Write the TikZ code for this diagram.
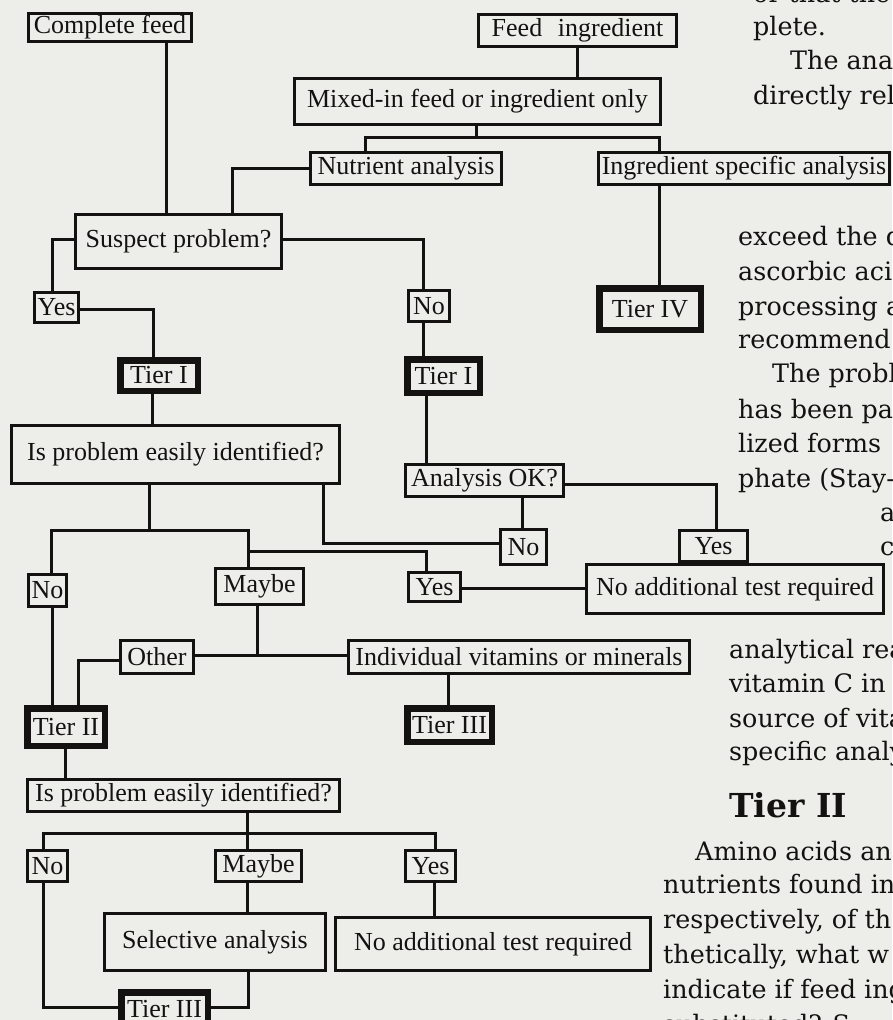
\documentclass[tikz,border=0pt]{standalone}
\usepackage{fontspec}
\setmainfont{Liberation Serif}
\newfontfamily\bodyfont{DejaVu Serif}
\definecolor{ink}{RGB}{20,18,16}
\definecolor{paper}{RGB}{237,237,234}
\newcommand\flowface{\fontsize{26}{30}\selectfont}
\newcommand\proseface{\bodyfont\fontsize{25.4}{30}\selectfont}
\newcommand\headface{\bodyfont\bfseries\fontsize{33}{36}\selectfont}
\begin{document}
\begin{tikzpicture}[x=1pt,y=-1pt,
  box/.style={draw=ink,line width=3pt,inner sep=0pt,text=ink,font=\flowface},
  tier/.style={box,line width=6.5pt},
  link/.style={draw=ink,line width=3pt},
  prose/.style={anchor=base west,inner sep=0pt,text=ink,font=\proseface}]
\useasboundingbox (0,0) rectangle (892,1020);
\clip (0,0) rectangle (892,1020);
\fill[paper] (0,0) rectangle (892,1020);

% ---- boxes ----
\node[box,minimum width=163pt,minimum height=28pt] (cf) at (110,27.5) {Complete feed};
\node[box,minimum width=198pt,minimum height=32pt] (fi) at (577.5,30.5) {Feed\hspace{0.35em} ingredient};
\node[box,minimum width=366pt,minimum height=46pt] (mx) at (477.5,101.5) {Mixed-in feed or ingredient only};
\node[box,minimum width=191pt,minimum height=32pt] (na) at (406,168.5) {Nutrient analysis};
\node[box,minimum width=291pt,minimum height=32pt] (isa) at (744,168.5) {Ingredient specific analysis};
\node[tier,minimum width=101.5pt,minimum height=41.5pt] (t4) at (650,309) {Tier IV};
\node[box,minimum width=206pt,minimum height=54pt] (sp) at (178.5,241.5) {Suspect problem?};
\node[box,minimum width=44pt,minimum height=30pt] (y1) at (56.5,307.5) {Yes};
\node[box,minimum width=41pt,minimum height=31pt] (n1) at (429,306) {No};
\node[tier,minimum width=77.5pt,minimum height=30.5pt] (t1a) at (159,375.5) {Tier I};
\node[tier,minimum width=72.5pt,minimum height=33.5pt] (t1b) at (443.5,376) {Tier I};
\node[box,minimum width=328pt,minimum height=58pt] (ipe1) at (175.5,454.5) {Is problem easily identified?};
\node[box,minimum width=158pt,minimum height=32pt] (aok) at (484.5,480.5) {Analysis OK?};
\node[box,minimum width=46pt,minimum height=35pt] (no2) at (523.5,547) {No};
\node[box,minimum width=68pt,minimum height=31pt] (yes2) at (713.5,546) {Yes};
\node[box,minimum width=297pt,minimum height=49pt] (natr1) at (735,589) {No additional test required};
\node[box,minimum width=38pt,minimum height=32pt] (no3) at (47.5,590.5) {No};
\node[box,minimum width=88pt,minimum height=36pt] (maybe1) at (259.5,586.5) {Maybe};
\node[box,minimum width=52pt,minimum height=29pt] (yes3) at (434.5,587) {Yes};
\node[box,minimum width=73pt,minimum height=33pt] (other) at (157,657) {Other};
\node[box,minimum width=341pt,minimum height=33pt] (ivm) at (519,657) {Individual vitamins or minerals};
\node[tier,minimum width=84.5pt,minimum height=33.5pt] (t3a) at (449.5,725) {Tier III};
\node[tier,minimum width=77.5pt,minimum height=37.5pt] (t2) at (66,727) {Tier II};
\node[box,minimum width=312pt,minimum height=32pt] (ipe2) at (183.5,795.5) {Is problem easily identified?};
\node[box,minimum width=40pt,minimum height=31pt] (no4) at (47.5,866) {No};
\node[box,minimum width=86pt,minimum height=31pt] (maybe2) at (258.5,866) {Maybe};
\node[box,minimum width=50pt,minimum height=31pt] (yes4) at (430.5,866) {Yes};
\node[box,minimum width=221pt,minimum height=57pt] (sel) at (215,942) {Selective analysis};
\node[box,minimum width=315pt,minimum height=53pt] (natr2) at (493,944) {No additional test required};
\node[tier,minimum width=86.5pt,minimum height=33.5pt] (t3b) at (164.5,1009) {Tier III};

% ---- junction coordinates ----
\coordinate (mxj) at (476,137);
\coordinate (b1l) at (365,137);
\coordinate (b1r) at (659,137);
\coordinate (b2) at (149,530);
\coordinate (b3) at (248,551);
\coordinate (b4) at (247,833);

% ---- connectors ----
\draw[link] ([xshift=56pt]cf.south) -- ([xshift=56pt]cf.south |- sp.north);
\draw[link] (fi.south) -- (fi.south |- mx.north);
\draw[link] (mx.south -| mxj) -- (mxj);
\draw[link] (na.north -| b1l) -- (b1l) -- (b1r) -- (isa.north -| b1r);
\draw[link] (isa.south -| b1r) -- (t4.north -| b1r);
\draw[link] (na.west) -| ([xshift=53.5pt]sp.north);
\draw[link] ([yshift=2pt]sp.west) -| ([xshift=-4.5pt]y1.north);
\draw[link] ([yshift=-1.5pt]y1.east) -| ([xshift=-6pt]t1a.north);
\draw[link] ([yshift=2pt]sp.east) -| ([xshift=-6pt]n1.north);
\draw[link] ([xshift=-6pt]n1.south) -- ([xshift=-6pt]n1.south |- t1b.north);
\draw[link] ([xshift=-17.5pt]t1b.south) -- ([xshift=-17.5pt]t1b.south |- aok.north);
\draw[link] ([xshift=-7pt]t1a.south) -- ([xshift=-7pt]t1a.south |- ipe1.north);
\draw[link] ([xshift=-26.5pt]ipe1.south) -- (b2);
\draw[link] ([xshift=3.5pt]no3.north) |- (b2) -| ([xshift=-11.5pt]maybe1.north);
\draw[link] (b3) -| ([xshift=-8.5pt]yes3.north);
\draw[link] ([xshift=147.5pt]ipe1.south) |- ([yshift=4pt]no2.west);
\draw[link] ([xshift=-1.5pt]no2.north |- aok.south) -- ([xshift=-1.5pt]no2.north);
\draw[link] ([yshift=-3.5pt]aok.east) -| ([xshift=2.5pt]yes2.north);
\draw[link] ([yshift=-1pt]yes3.east) -- ([yshift=-1pt]yes3.east -| natr1.west);
\draw[link] ([xshift=-2.5pt]maybe1.south) -- ([xshift=-2.5pt]maybe1.south |- other.east);
\draw[link] ([yshift=2pt]other.east) -- ([yshift=2pt]ivm.west);
\draw[link] ([xshift=-1.5pt]t3a.north |- ivm.south) -- ([xshift=-1.5pt]t3a.north);
\draw[link] ([yshift=-3pt]other.west) -| ([xshift=12pt]t2.north);
\draw[link] ([xshift=4.5pt]no3.south) -- ([xshift=4.5pt]no3.south |- t2.north);
\draw[link] ([xshift=-1pt]t2.south) -- ([xshift=-1pt]t2.south |- ipe2.north);
\draw[link] ([xshift=63.5pt]ipe2.south) -- (b4);
\draw[link] ([xshift=-4.5pt]no4.north) |- (b4) -| ([xshift=4.5pt]yes4.north);
\draw[link] (b4) -- (b4 |- maybe2.north);
\draw[link] (b4 |- maybe2.south) -- (b4 |- sel.north);
\draw[link] ([xshift=3.5pt]yes4.south) -- ([xshift=3.5pt]yes4.south |- natr2.north);
\draw[link] ([xshift=-4.5pt]no4.south) |- ([yshift=2pt]t3b.west);
\draw[link] ([xshift=33pt]sel.south) |- ([yshift=2pt]t3b.east);

% ---- running text of the page ----
\node[prose] (p0) at (753,2) {or that the};
\node[prose] (p1) at (753,35) {plete.};
\node[prose] (p2) at (790,69) {The anal};
\node[prose] (p3) at (753,104) {directly rel};
\node[prose] (q1) at (738,245) {exceed the d};
\node[prose] (q2) at (738,280) {ascorbic aci};
\node[prose] (q3) at (738,315) {processing a};
\node[prose] (q4) at (738,348) {recommend};
\node[prose] (q5) at (772,382) {The probl};
\node[prose] (q6) at (738,418) {has been pa};
\node[prose] (q7) at (738,452) {lized forms};
\node[prose] (q8) at (738,487) {phate (Stay-};
\node[prose] (q9) at (880,521) {a};
\node[prose] (q10) at (880,555) {c};
\node[prose] (r1) at (729,658) {analytical rea};
\node[prose] (r2) at (729,692) {vitamin C in};
\node[prose] (r3) at (729,727) {source of vita};
\node[prose] (r4) at (729,760) {specific analy};
\node[prose,font=\headface] (hd) at (729,817) {Tier II};
\node[prose] (s1) at (695,860) {Amino acids an};
\node[prose] (s2) at (663,893) {nutrients found in};
\node[prose] (s3) at (663,928) {respectively, of th};
\node[prose] (s4) at (663,963) {thetically, what w};
\node[prose] (s5) at (663,998) {indicate if feed ing};
\node[prose] (s6) at (663,1033) {substituted? S};
\end{tikzpicture}
\end{document}
